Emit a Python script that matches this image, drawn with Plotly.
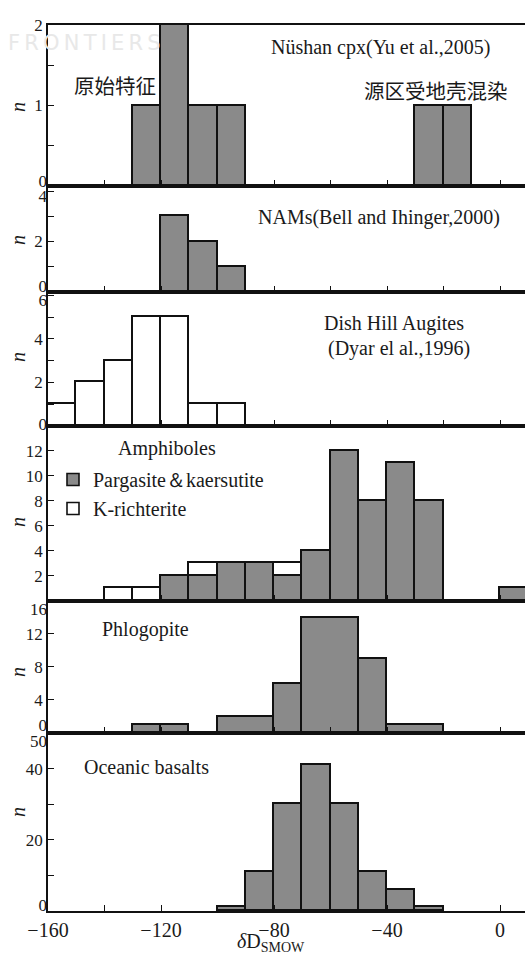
import plotly.graph_objects as go

# ---------------- data ----------------
nushan_x = [-125, -115, -105, -95, -25, -15]
nushan_n = [1, 2, 1, 1, 1, 1]

nams_x = [-115, -105, -95]
nams_n = [3, 2, 1]

dish_x = [-155, -145, -135, -125, -115, -105, -95]
dish_n = [1, 2, 3, 5, 5, 1, 1]

amph_parg_x = [-115, -105, -95, -85, -75, -65, -55, -45, -35, -25, 5]
amph_parg_n = [2, 2, 3, 3, 2, 4, 12, 8, 11, 8, 1]
amph_krich_x = [-135, -125, -105, -75]
amph_krich_n = [1, 1, 1, 1]

phlog_x = [-125, -115, -90, -75, -60, -45, -30]
phlog_w = [10, 10, 20, 10, 20, 10, 20]
phlog_n = [1, 1, 2, 6, 14, 9, 1]

ocean_x = [-95, -85, -75, -65, -55, -45, -35, -25]
ocean_n = [1, 11, 30, 41, 30, 11, 6, 1]

x_tickvals = [-160, -140, -120, -100, -80, -60, -40, -20, 0]
x_ticktext = ["−160", "", "−120", "", "−80", "", "−40", "", "0"]

# ---------------- layout geometry ----------------
W, H = 525, 960
ML, MR, MT, MB = 48, 0, 25, 49
PW = W - ML - MR
PH = H - MT - MB
X_RANGE = [-160, 8.85]
bounds = [25, 186, 292, 426, 600.5, 733, 911]   # pixel rows of panel borders

def yp(py):
    return (H - MB - py) / PH

def xp(px):
    return (px - ML) / PW

GRAY = "#8a8a8a"
LINE = "#111111"
TXT = "#1a1a1a"
SERIF = "Liberation Serif"
CJK = "Noto Sans CJK SC"
TICKSIZE = 17

fig = go.Figure()

# each panel: traces, y range, tick values, tick texts for the main axis,
# and the edge labels (value, text, pixel shift; + = down) on overlay axes
panels = [
    dict(traces=[(nushan_x, nushan_n, None, GRAY, None)], yr=[0, 2],
         tv=[0, 0.5, 1, 1.5, 2], tt=["", "", "1", "", "2"],
         edge=[(0, "0", -5)], npy=107),
    dict(traces=[(nams_x, nams_n, None, GRAY, None)], yr=[0, 4.2],
         tv=[0, 1, 2, 3, 4], tt=["", "", "2", "", ""],
         edge=[(0, "0", -6), (4, "4", 5)], npy=240),
    dict(traces=[(dish_x, dish_n, None, "white", None)], yr=[0, 6.15],
         tv=[0, 1, 2, 3, 4, 5, 6], tt=["", "", "2", "", "4", "", ""],
         edge=[(0, "0", -2), (6, "6", 5)], npy=357),
    dict(traces=[(amph_parg_x, amph_parg_n, None, GRAY, "Pargasite＆kaersutite"),
                 (amph_krich_x, amph_krich_n, None, "white", "K-richterite")],
         yr=[0, 14], tv=[2, 4, 6, 8, 10, 12], tt=["2", "4", "6", "8", "10", "12"],
         edge=[], npy=522),
    dict(traces=[(phlog_x, phlog_n, phlog_w, GRAY, None)], yr=[0, 16],
         tv=[0, 4, 8, 12, 16], tt=["", "4", "8", "12", ""],
         edge=[(0, "0", -8), (16, "16", 9)], npy=672),
    dict(traces=[(ocean_x, ocean_n, None, GRAY, None)], yr=[0, 50],
         tv=[0, 10, 20, 30, 40, 50], tt=["", "", "20", "", "40", ""],
         edge=[(0, "0", -6), (50, "50", 8)], npy=812),
]

annotations = []
layout = {}
extra_axis = 7
for i, p in enumerate(panels):
    k = i + 1
    xa = "x" if k == 1 else f"x{k}"
    ya = "y" if k == 1 else f"y{k}"
    for (xs, ns, ws, col, name) in p["traces"]:
        fig.add_trace(go.Bar(
            x=xs, y=ns, width=ws if ws is not None else 10,
            marker=dict(color=col, line=dict(color=LINE, width=1.6)),
            xaxis=xa, yaxis=ya, name=name or "",
            showlegend=name is not None,
            legendgroup=name or "",
        ))
    top, bot = bounds[i], bounds[i + 1]
    last = (k == 6)
    layout["xaxis" if k == 1 else f"xaxis{k}"] = dict(
        domain=[0, 1], range=X_RANGE, anchor=ya,
        showline=True, linecolor=LINE, linewidth=1.5, mirror=True,
        ticks="inside", ticklen=6, tickwidth=1.3, tickcolor=LINE,
        tickmode="array", tickvals=x_tickvals, ticktext=x_ticktext,
        showticklabels=last, showgrid=False, zeroline=False,
        tickfont=dict(family=SERIF, size=20, color=TXT),
    )
    dom = [yp(bot), yp(top)]
    layout["yaxis" if k == 1 else f"yaxis{k}"] = dict(
        domain=dom, range=p["yr"], anchor=xa,
        showline=True, linecolor=LINE, linewidth=1.5, mirror=False,
        ticks="inside", ticklen=6, tickwidth=1.3, tickcolor=LINE,
        tickmode="array", tickvals=p["tv"], ticktext=p["tt"],
        showgrid=False, zeroline=False, ticklabeloverflow="allow",
        tickfont=dict(family=SERIF, size=TICKSIZE, color=TXT),
    )
    # edge tick labels (nudged away from the panel borders, as in the original)
    for (val, txt, shift) in p["edge"]:
        yname = f"y{extra_axis}"
        layout[f"yaxis{extra_axis}"] = dict(
            domain=dom, range=p["yr"], anchor=xa, overlaying=ya, side="left",
            showline=False, ticks="", showgrid=False, zeroline=False,
            tickmode="array", tickvals=[val], ticktext=[txt],
            ticklabelshift=shift, ticklabeloverflow="allow",
            tickfont=dict(family=SERIF, size=TICKSIZE, color=TXT),
        )
        # an empty trace so the overlay axis is drawn
        fig.add_trace(go.Scatter(x=[None], y=[None], xaxis=xa, yaxis=yname,
                                 mode="markers", showlegend=False,
                                 hoverinfo="skip"))
        extra_axis += 1
    annotations.append(dict(
        text="<i>n</i>", xref="paper", yref="paper",
        x=xp(18), y=yp(p["npy"]), showarrow=False, textangle=-90,
        font=dict(family=SERIF, size=20, color=TXT),
        xanchor="center", yanchor="middle"))

def label(text, px, py, size=20, family=SERIF, color=TXT):
    annotations.append(dict(
        text=text, xref="paper", yref="paper", x=xp(px), y=yp(py),
        showarrow=False, xanchor="center", yanchor="middle",
        font=dict(family=family, size=size, color=color)))

label("F\u2009R\u2009O\u2009N\u2009T\u2009I\u2009E\u2009R\u2009S", 84, 43, size=21,
      family="DejaVu Sans", color="#e8e8e8")
label("Nüshan cpx(Yu et al.,2005)", 380, 48)
label("原始特征", 115, 85, size=20.5, family=CJK)
label("源区受地壳混染", 436, 90, size=20.5, family=CJK)
label("NAMs(Bell and Ihinger,2000)", 379, 218)
label("Dish Hill Augites", 394, 323)
label("(Dyar el al.,1996)", 399, 348)
label("Amphiboles", 167, 448)
label("Phlogopite", 145, 629)
label("Oceanic basalts", 146, 767)
label("<i>δ</i>D<sub>SMOW</sub>", 271, 943, size=20)

fig.update_layout(
    width=W, height=H,
    margin=dict(l=ML, r=MR, t=MT, b=MB),
    plot_bgcolor="white", paper_bgcolor="white",
    barmode="stack", bargap=0,
    annotations=annotations,
    showlegend=True,
    legend=dict(x=xp(53), y=yp(460), xanchor="left", yanchor="top",
                bgcolor="rgba(0,0,0,0)", borderwidth=0,
                font=dict(family=SERIF, size=20, color=TXT),
                tracegroupgap=0, itemwidth=30),
    **layout,
)

fig.write_html("out.html")
